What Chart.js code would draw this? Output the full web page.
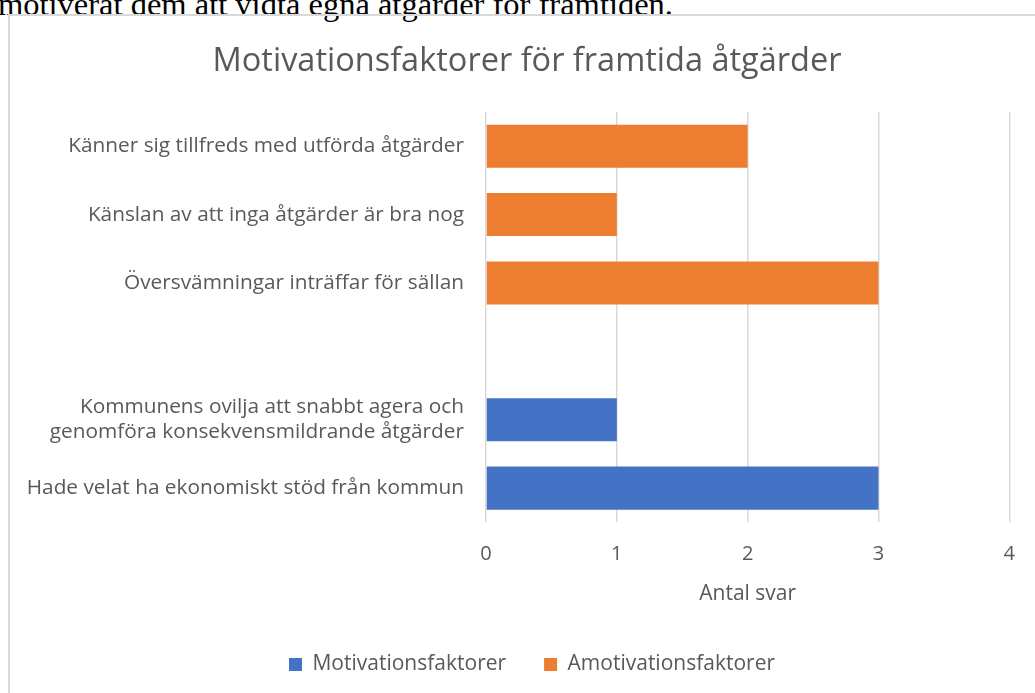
<!DOCTYPE html>
<html>
<head>
<meta charset="utf-8">
<script src="https://cdn.jsdelivr.net/npm/chart.js@4"></script>
<style>
  html, body { margin: 0; padding: 0; background: #fff; overflow: hidden; }
  body { width: 1035px; height: 693px; position: relative; }
  #lead {
    position: absolute; left: -2px; top: -12px; margin: 0;
    font-family: "Liberation Serif", "DejaVu Serif", serif;
    font-size: 32.5px; line-height: 32px; color: #000; white-space: nowrap;
  }
  #box {
    position: absolute; left: 8px; top: 14px; width: 1040px; height: 700px;
    border: 2px solid #d9d9d9; box-sizing: border-box;
  }
  #wrap { position: absolute; left: 10px; top: 16px; width: 1025px; height: 677px; }
</style>
</head>
<body>
<p id="lead">motiverat dem att vidta egna åtgärder för framtiden.</p>
<div id="box"></div>
<div id="wrap"><canvas id="chart"></canvas></div>
<script>
const categories = [
    'Känner sig tillfreds med utförda åtgärder',
    'Känslan av att inga åtgärder är bra nog',
    'Översvämningar inträffar för sällan',
    '',
    ['Kommunens ovilja att snabbt agera och', 'genomföra konsekvensmildrande åtgärder'],
    'Hade velat ha ekonomiskt stöd från kommun'
];
const motivation   = [null, null, null, null, 1, 3];
const amotivation  = [2, 1, 3, null, null, null];
const xTicks = [0, 1, 2, 3, 4];

const textColor = '#595959';
const font = 'Open Sans, Noto Sans, sans-serif';

// Excel places title and legend a bit right of the chart-area centre
const nudge = {
    id: 'nudge',
    afterLayout(c) {
        c.titleBlock.left += 9;  c.titleBlock.right += 9;
        c.legend.left += 14;     c.legend.right += 14;
    }
};

new Chart(document.getElementById('chart'), {
    type: 'bar',
    data: {
        labels: categories,
        datasets: [
            { label: 'Motivationsfaktorer', data: motivation, backgroundColor: '#4472C4' },
            { label: 'Amotivationsfaktorer', data: amotivation, backgroundColor: '#ED7D31' }
        ]
    },
    plugins: [nudge],
    options: {
        indexAxis: 'y',
        responsive: true,
        maintainAspectRatio: false,
        animation: false,
        layout: { padding: { top: 26, right: 23, bottom: 8, left: 14 } },
        datasets: { bar: { barPercentage: 0.63, categoryPercentage: 1 } },
        plugins: {
            title: {
                display: true,
                text: 'Motivationsfaktorer för framtida åtgärder',
                color: textColor,
                font: { family: font, size: 32.5, weight: 'normal' },
                padding: { top: 0, bottom: 31 }
            },
            legend: {
                position: 'bottom',
                labels: {
                    color: textColor,
                    font: { family: font, size: 21 },
                    boxWidth: 13, boxHeight: 13,
                    padding: 38
                }
            },
            tooltip: { enabled: false }
        },
        scales: {
            x: {
                stacked: true,
                min: 0, max: 4,
                afterBuildTicks: s => { s.ticks = xTicks.map(v => ({ value: v })); },
                grid: { color: '#d9d9d9', lineWidth: 1.5, drawTicks: false },
                border: { display: false },
                ticks: { color: textColor, font: { family: font, size: 20 }, padding: 20 },
                title: {
                    display: true, text: 'Antal svar', color: textColor,
                    font: { family: font, size: 21 }, padding: { top: -5, bottom: 9.5 }
                }
            },
            y: {
                stacked: true,
                afterFit: s => { s.width = 462; },
                grid: { display: false },
                border: { display: false },
                ticks: { color: textColor, font: { family: font, size: 20.8 }, padding: 14 }
            }
        }
    }
});
</script>
</body>
</html>
